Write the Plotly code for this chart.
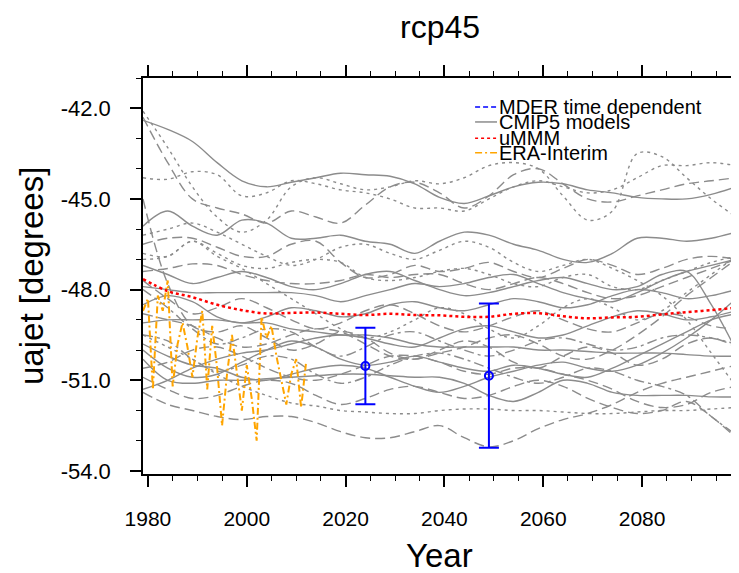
import plotly.graph_objects as go

# model years (5-year steps) and smoothed CMIP5 model curves
YEARS = list(range(1979, 2100, 5))

MODEL_STYLES = [
    "solid", "dot", "dot", "dash", "solid", "dash", "dash", "dash", "dot",
    "solid", "solid", "solid", "solid", "solid", "dash", "dot", "solid",
    "dashdot", "dot", "dash", "dashdot", "solid", "dash", "dot", "dash",
    "solid", "dash",
]

MODEL_VALUES = [
    [-42.4, -42.7, -43.1, -43.8, -44.4, -44.6, -44.45, -44.3, -44.15, -44.2, -44.25, -44.5, -44.95, -45.15, -44.9, -44.6, -44.45, -44.5, -44.7, -44.8, -44.95, -45.0, -45.0, -44.85, -44.6],
    [-42.1, -43.3, -44.6, -45.6, -46.1, -45.7, -44.6, -44.3, -44.5, -44.7, -44.6, -44.4, -44.5, -44.3, -43.9, -43.8, -44.0, -44.9, -45.7, -45.4, -43.5, -43.6, -44.3, -45.0, -45.6],
    [-44.3, -44.35, -44.1, -44.2, -44.9, -44.8, -44.4, -44.5, -44.7, -44.8, -45.0, -45.3, -45.3, -45.4, -45.0, -44.6, -44.4, -44.6, -44.8, -44.7, -44.3, -43.9, -43.9, -43.8, -43.9],
    [-42.3, -43.8, -45.0, -45.3, -45.5, -45.8, -45.4, -45.6, -45.8, -45.2, -44.6, -44.45, -44.8, -45.3, -44.9, -44.2, -44.0, -44.5, -45.0, -45.1, -44.9, -44.7, -44.5, -44.4, -44.3],
    [-45.9, -45.4, -45.9, -46.2, -45.7, -45.8, -46.3, -46.3, -46.2, -46.4, -46.5, -46.8, -46.4, -46.1, -46.2, -46.5, -46.7, -47.0, -47.1, -46.8, -46.3, -46.3, -46.4, -46.3, -46.1],
    [-45.0, -47.8, -49.2, -49.4, -49.2, -49.6, -50.0, -49.8, -49.4, -49.6, -50.1, -50.3, -50.0, -49.7, -49.9, -50.4, -50.6, -50.2, -49.9, -50.1, -50.5, -50.3, -49.8, -49.6, -49.9],
    [-46.5, -46.3, -46.3, -46.6, -46.9, -46.9, -46.5, -46.4, -47.1, -47.6, -47.5, -47.2, -47.4, -47.3, -47.1, -47.4, -47.6, -47.3, -47.0, -47.2, -47.5, -47.3, -47.0, -46.9, -47.0],
    [-47.4, -47.3, -47.15, -47.2, -47.5, -47.7, -47.8, -47.8, -47.7, -47.5, -47.6, -47.5, -47.5, -47.8, -48.0, -47.8, -47.6, -47.8, -48.1, -48.3, -48.2, -47.9, -47.6, -47.3, -47.0],
    [-47.0, -46.9, -46.4, -46.8, -47.2, -47.3, -47.1, -47.0, -47.1, -47.6, -47.7, -47.6, -47.4, -47.3, -47.5, -47.8, -47.9, -47.6, -47.5, -47.9, -48.0, -47.7, -47.4, -47.1, -46.9],
    [-47.9, -48.0, -48.1, -48.1, -48.1, -48.1, -48.1, -48.2, -48.4, -48.2, -48.0, -47.8, -47.9, -47.8, -47.6, -47.5, -47.8, -48.1, -48.3, -48.4, -48.1, -47.7, -47.4, -47.2, -47.0],
    [-48.5, -48.2, -48.4, -48.9, -49.1, -48.9, -48.6, -48.7, -48.9, -48.8, -48.5, -48.4, -48.6, -48.7, -48.5, -48.3, -48.4, -48.6, -48.5, -48.2, -48.0, -48.1, -48.3, -48.2, -48.0],
    [-49.1, -49.0, -49.0, -49.0, -49.1, -49.1, -49.3, -49.4, -49.5, -49.5, -49.6, -49.8, -49.9, -49.9, -49.9, -49.9, -50.0, -50.0, -50.05, -50.1, -50.1, -50.1, -50.15, -50.2, -50.2],
    [-50.3, -51.0, -51.1, -51.0, -51.0, -50.95, -50.9, -50.85, -50.8, -50.8, -50.85, -50.9, -50.9, -51.1, -51.5, -51.7, -51.4, -51.0, -51.1, -51.4, -51.5, -51.5, -51.5, -51.55, -51.55],
    [-50.0, -50.6, -50.9, -50.8, -50.4, -50.0, -49.7, -49.9, -50.3, -50.5, -50.4, -50.2, -50.4, -50.6, -50.7, -50.5, -50.6, -50.8, -50.9, -50.6, -50.2, -49.8, -49.4, -49.0, -48.8],
    [-51.4, -51.8, -52.0, -52.2, -52.3, -52.2, -52.2, -52.4, -52.7, -52.9, -52.9, -52.7, -52.5, -52.9, -53.2, -53.0, -52.6, -52.3, -52.1, -51.8, -51.4, -51.1, -50.9, -50.7, -50.5],
    [-49.5, -49.9, -50.3, -50.8, -51.2, -51.5, -51.75, -51.85, -52.0, -52.05, -52.1, -52.1, -52.0, -51.95, -51.95, -52.0, -52.0, -52.05, -52.1, -52.1, -52.05, -52.0, -52.0, -51.95, -51.9],
    [-51.3, -51.0, -50.6, -50.3, -50.1, -50.0, -49.8, -49.6, -49.5, -49.6, -49.8, -49.9, -49.6, -49.3, -49.2, -49.4, -49.6, -49.5, -49.2, -48.9, -48.7, -48.8, -49.0, -48.9, -48.7],
    [-48.0, -48.6, -49.3, -49.8, -49.6, -49.3, -49.4, -49.9, -50.2, -49.9, -49.5, -49.4, -49.7, -50.0, -50.2, -50.0, -49.7, -49.6, -49.8, -50.0, -49.9, -49.6, -49.5, -49.6, -49.8],
    [-46.8, -46.9, -46.4, -46.9, -47.3, -47.8, -48.3, -48.8, -49.3, -49.6, -49.4, -49.0, -48.6, -48.8, -49.3, -49.6, -49.2, -48.6, -48.3, -48.6, -49.0, -48.7, -48.1, -47.5, -46.9],
    [-47.7, -48.3, -48.8, -48.6, -48.3, -48.6, -49.0, -49.3, -49.1, -48.7, -48.5, -48.8, -49.2, -49.4, -49.2, -48.9, -48.7, -49.0, -49.3, -49.4, -49.1, -48.8, -48.9, -49.2, -49.3],
    [-49.5, -49.7, -50.3, -50.7, -50.5, -50.2, -50.3, -50.8, -51.1, -50.9, -50.5, -50.2, -50.1, -50.3, -50.6, -50.9, -51.1, -50.9, -50.6, -50.7, -51.0, -51.2, -51.5, -52.2, -52.8],
    [-49.8, -50.2, -50.5, -50.6, -50.9, -51.0, -50.8, -50.6, -50.5, -50.6, -50.9, -51.2, -51.4, -51.2, -50.9, -50.7, -50.5, -50.4, -50.6, -50.7, -50.5, -50.1, -49.6, -49.0, -48.3],
    [-50.6, -50.4, -50.0, -49.9, -50.2, -50.6, -50.9, -51.0, -50.8, -50.5, -50.2, -50.2, -50.4, -50.7, -50.8, -50.6, -50.6, -50.8, -51.0, -51.3, -51.7, -51.9, -51.8, -51.4, -51.2],
    [-46.2, -46.0, -45.8, -46.1, -46.5, -46.9, -47.2, -47.0, -46.6, -46.5, -46.8, -47.0, -46.7, -46.4, -46.6, -47.1, -47.4, -47.2, -47.0, -47.3, -47.7, -48.2, -49.0, -50.1, -51.2],
    [-48.8, -49.0, -49.2, -49.6, -49.9, -49.8, -49.5, -49.3, -49.4, -49.8, -50.2, -50.3, -50.1, -49.9, -49.6, -49.5, -49.8, -50.2, -50.3, -50.0, -49.5, -48.9, -48.2, -47.6, -47.0],
    [-47.2, -47.5, -47.8, -47.6, -47.4, -47.6, -47.9, -48.0, -47.8, -47.5, -47.4, -47.7, -48.0, -48.2, -48.1, -47.9, -47.7, -47.6, -47.8, -48.0, -47.9, -47.5, -47.4, -48.5, -50.0],
    [-50.9, -51.3, -51.6, -51.5, -51.2, -51.0, -51.1, -51.5, -51.8, -51.6, -51.3, -51.2, -51.4, -51.6, -51.5, -51.2, -51.0, -51.2, -51.6, -51.9, -52.1, -52.0, -51.7, -52.2, -52.9],
]

# unweighted multi-model mean
UMMM = [-47.65, -48.05, -48.25, -48.5, -48.68, -48.79, -48.77, -48.76, -48.8, -48.84, -48.8, -48.84, -48.85, -48.9, -48.9, -48.8, -48.78, -48.88, -48.95, -48.92, -48.9, -48.82, -48.75, -48.68, -48.6]

# ERA-Interim, yearly
ERA_YEARS = list(range(1979, 2013))
ERA_VALUES = [
    -48.7, -48.3, -51.3, -48.2, -48.7, -47.7, -51.2, -49.8, -49.1, -49.9,
    -50.9, -49.6, -48.7, -51.3, -49.2, -50.6, -52.5, -50.8, -49.5, -50.7,
    -52.0, -50.5, -51.6, -53.0, -48.9, -49.6, -49.2, -50.2, -51.0, -51.8,
    -50.8, -50.3, -51.9, -50.4,
]

# MDER time dependent estimates with ranges
MDER_YEARS = [2024, 2049]
MDER_MEAN = [-50.53, -50.85]
MDER_UPPER = [-49.26, -48.46]
MDER_LOWER = [-51.79, -53.23]

X_TICKS = [1980, 2000, 2020, 2040, 2060, 2080]
Y_TICKS = [-54.0, -51.0, -48.0, -45.0, -42.0]

LEGEND_LABELS = ["MDER time dependent", "CMIP5 models", "uMMM", "ERA-Interim"]

GRAY = "#8c8c8c"
DASHES = {
    "solid": "solid",
    "dash": "10px,5px",
    "dot": "3px,4px",
    "dashdot": "10px,4px,3px,4px",
}
FONT = "Liberation Sans, Arial, Helvetica, sans-serif"

fig = go.Figure()

for vals, style in zip(MODEL_VALUES, MODEL_STYLES):
    fig.add_trace(go.Scatter(
        x=YEARS, y=vals, mode="lines",
        line=dict(color=GRAY, width=1.4, dash=DASHES[style], shape="spline", smoothing=1.0),
        showlegend=False, hoverinfo="skip",
    ))

fig.add_trace(go.Scatter(
    x=ERA_YEARS, y=ERA_VALUES, mode="lines",
    line=dict(color="#ffa500", width=2, dash="7px,3px,2px,3px"),
    showlegend=False,
))

fig.add_trace(go.Scatter(
    x=YEARS, y=UMMM, mode="lines",
    line=dict(color="#ff0000", width=2.5, dash="3px,3px", shape="spline"),
    showlegend=False,
))

fig.add_trace(go.Scatter(
    x=MDER_YEARS, y=MDER_MEAN, mode="markers",
    marker=dict(symbol="circle-open", size=8, color="#0000ff", line=dict(width=2, color="#0000ff")),
    error_y=dict(
        type="data", symmetric=False,
        array=[u - m for u, m in zip(MDER_UPPER, MDER_MEAN)],
        arrayminus=[m - l for m, l in zip(MDER_MEAN, MDER_LOWER)],
        color="#0000ff", thickness=2, width=10,
    ),
    showlegend=False,
))

# hand-made legend (tight NCL-style spacing)
legend_colors = ["#0000ff", GRAY, "#ff0000", "#ffa500"]
legend_dashes = ["5px,3px", "solid", "3px,3px", "7px,3px,2px,3px"]
legend_y = [0.927, 0.889, 0.848, 0.811]
for label, col, dash, ly in zip(LEGEND_LABELS, legend_colors, legend_dashes, legend_y):
    fig.add_shape(type="line", xref="paper", yref="paper", x0=0.560, x1=0.597, y0=ly, y1=ly,
                  line=dict(color=col, width=1.5, dash=dash))
    fig.add_annotation(x=0.597, y=ly, xref="paper", yref="paper", text=label, showarrow=False,
                       xanchor="left", yanchor="middle", font=dict(size=20, color="black", family=FONT))

fig.add_annotation(x=0.5, y=(474 - 27) / 396, xref="paper", yref="paper", text="rcp45",
                   showarrow=False, yanchor="middle", font=dict(size=32, color="black", family=FONT))
fig.add_annotation(x=0.5, y=(474 - 555) / 396, xref="paper", yref="paper", text="Year",
                   showarrow=False, yanchor="middle", font=dict(size=33, color="black", family=FONT))
fig.add_annotation(x=(31 - 143) / 593, y=0.5, xref="paper", yref="paper", text="uajet [degrees]",
                   showarrow=False, textangle=-90, xanchor="center",
                   font=dict(size=33, color="black", family=FONT))

# the page body adds an 8px offset, so the figure is 8px smaller on each side
fig.update_layout(
    width=731, height=565,
    margin=dict(l=135, r=3, t=70, b=99, autoexpand=False),
    plot_bgcolor="white", paper_bgcolor="white",
    font=dict(family=FONT, color="black"),
)
fig.update_xaxes(
    range=[1979, 2099], tickmode="array", tickvals=X_TICKS, ticktext=[str(v) for v in X_TICKS],
    ticks="outside", ticklen=11, tickwidth=1.5, tickcolor="black",
    minor=dict(tick0=1980, dtick=5, ticks="outside", ticklen=5, tickwidth=1, tickcolor="black"),
    showline=True, linecolor="black", linewidth=1.5, mirror="ticks", automargin=False,
    showgrid=False, zeroline=False, tickfont=dict(size=21), ticklabelstandoff=14,
)
fig.update_yaxes(
    range=[-54.1, -41.0], tickmode="array", tickvals=Y_TICKS, ticktext=[f"{v:.1f}" for v in Y_TICKS],
    ticks="outside", ticklen=11, tickwidth=1.5, tickcolor="black",
    minor=dict(tick0=-54, dtick=1, ticks="outside", ticklen=5, tickwidth=1, tickcolor="black"),
    showline=True, linecolor="black", linewidth=1.5, mirror="ticks", automargin=False,
    showgrid=False, zeroline=False, tickfont=dict(size=22), ticklabelstandoff=15,
)

fig.write_html("out.html")
